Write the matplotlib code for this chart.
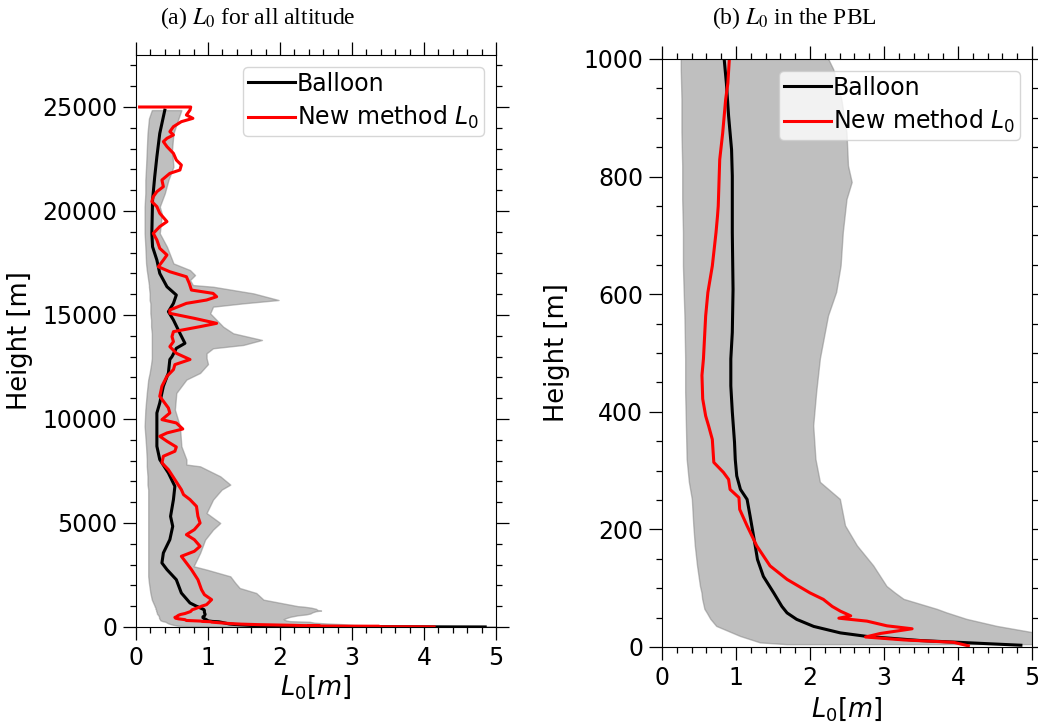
import matplotlib
matplotlib.use("Agg")
import matplotlib.pyplot as plt
from matplotlib.ticker import MultipleLocator

# ---------------- data ----------------
balloon_h = [3, 11, 18, 24, 35, 47, 58, 69, 92, 120,
             149, 172, 194, 223, 251, 268, 291, 319, 348, 400,
             444, 490, 535, 608, 705, 801, 846, 903, 959, 1000,
             1155, 1635, 2275, 2760, 3080, 3560, 4200, 4840, 5320, 6125,
             6765, 7405, 8050, 8690, 9650, 10290, 10770, 11575, 12215, 12860,
             13000, 13400, 13640, 14120, 14760, 15160, 15560, 15960, 16360, 17000,
             17640, 18280, 18925, 20530, 21650, 22610, 23730, 24850]
balloon_L0 = [4.85, 3.49, 2.77, 2.41, 2.05, 1.82, 1.69, 1.62, 1.51, 1.37,
              1.29, 1.26, 1.23, 1.19, 1.15, 1.06, 1.01, 0.99, 0.98, 0.95,
              0.93, 0.93, 0.95, 0.96, 0.95, 0.95, 0.94, 0.90, 0.87, 0.84,
              0.75, 0.63, 0.56, 0.43, 0.36, 0.38, 0.47, 0.51, 0.48, 0.52,
              0.54, 0.45, 0.33, 0.29, 0.29, 0.29, 0.33, 0.38, 0.45, 0.47,
              0.50, 0.56, 0.68, 0.61, 0.52, 0.45, 0.52, 0.56, 0.43, 0.33,
              0.29, 0.23, 0.22, 0.23, 0.26, 0.29, 0.33, 0.40]

new_h = [2, 8, 12, 17, 23, 31, 36, 44, 49, 53,
         61, 69, 81, 92, 115, 138, 172, 206, 234, 254,
         268, 285, 297, 314, 353, 376, 393, 422, 462, 490,
         563, 603, 648, 705, 733, 750, 790, 829, 874, 931,
         959, 1000, 1075, 1315, 1555, 1795, 2275, 2760, 3080, 3400,
         3640, 3880, 4200, 4440, 4680, 5000, 5320, 5800, 6125, 6365,
         6605, 7085, 7565, 7890, 8210, 8450, 8655, 8930, 9170, 9330,
         9520, 9810, 9970, 10290, 10530, 11090, 11575, 12055, 12375, 12615,
         12860, 13160, 13480, 13720, 13960, 14200, 14440, 14600, 14840, 15080,
         15240, 15560, 15720, 15880, 16040, 16200, 16520, 16840, 17080, 17320,
         17640, 17885, 18205, 18605, 18925, 19250, 19490, 19890, 20210, 20450,
         20690, 20930, 21170, 21490, 21810, 21970, 22210, 22450, 22770, 23095,
         23335, 23495, 23655, 23815, 24055, 24295, 24455, 24615, 24855, 25000,
         25000]
new_L0 = [4.14, 3.94, 3.27, 2.75, 2.95, 3.38, 3.04, 2.77, 2.39, 2.55,
          2.41, 2.30, 2.18, 2.00, 1.69, 1.46, 1.28, 1.15, 1.05, 1.04,
          0.92, 0.90, 0.83, 0.70, 0.68, 0.63, 0.59, 0.55, 0.54, 0.56,
          0.59, 0.62, 0.68, 0.73, 0.75, 0.76, 0.77, 0.78, 0.82, 0.86,
          0.89, 0.91, 0.98, 1.05, 0.95, 0.91, 0.86, 0.77, 0.70, 0.63,
          0.81, 0.89, 0.81, 0.70, 0.81, 0.89, 0.86, 0.84, 0.75, 0.66,
          0.63, 0.54, 0.45, 0.36, 0.38, 0.54, 0.56, 0.43, 0.33, 0.43,
          0.65, 0.56, 0.36, 0.47, 0.45, 0.33, 0.36, 0.43, 0.52, 0.54,
          0.75, 0.56, 0.47, 0.52, 0.50, 0.52, 0.89, 1.12, 0.81, 0.47,
          0.47, 0.70, 0.98, 1.12, 1.07, 0.77, 0.74, 0.70, 0.47, 0.31,
          0.38, 0.43, 0.33, 0.29, 0.24, 0.33, 0.43, 0.33, 0.29, 0.22,
          0.24, 0.29, 0.38, 0.36, 0.47, 0.61, 0.63, 0.56, 0.52, 0.43,
          0.38, 0.43, 0.52, 0.47, 0.52, 0.63, 0.79, 0.70, 0.75, 0.76,
          0.05]

band_h = [4, 7, 18, 35, 47, 58, 64, 81, 92, 103,
          138, 172, 206, 251, 280, 319, 376, 433, 490, 563,
          603, 648, 705, 761, 790, 818, 874, 931, 982, 1000,
          1315, 1635, 1875, 2115, 2435, 2760, 2920, 3560, 4200, 4680,
          5000, 5480, 6125, 6605, 6845, 7245, 7725, 7810, 8050, 8690,
          9650, 10450, 11250, 11895, 12215, 12640, 12920, 13160, 13400, 13560,
          13800, 14120, 14440, 14760, 15080, 15400, 15560, 15720, 16040, 16360,
          16440, 16680, 16920, 17160, 17480, 18280, 18925, 19850, 20210, 20850,
          21490, 22130, 22930, 23730, 24450, 24850]
band_lo = [1.69, 1.33, 1.06, 0.74, 0.66, 0.61, 0.58, 0.55, 0.54, 0.52,
           0.48, 0.45, 0.43, 0.41, 0.37, 0.34, 0.33, 0.32, 0.32, 0.31,
           0.30, 0.29, 0.29, 0.28, 0.28, 0.28, 0.27, 0.27, 0.26, 0.26,
           0.22, 0.20, 0.19, 0.18, 0.17, 0.17, 0.17, 0.17, 0.17, 0.17,
           0.17, 0.17, 0.17, 0.17, 0.16, 0.16, 0.15, 0.15, 0.15, 0.14,
           0.12, 0.13, 0.15, 0.17, 0.19, 0.21, 0.22, 0.22, 0.22, 0.22,
           0.22, 0.22, 0.21, 0.21, 0.20, 0.20, 0.20, 0.19, 0.19, 0.18,
           0.18, 0.17, 0.16, 0.15, 0.14, 0.13, 0.12, 0.12, 0.12, 0.13,
           0.13, 0.14, 0.15, 0.16, 0.18, 0.22]
band_hi = [6.0, 5.8, 5.3, 4.53, 4.12, 3.85, 3.72, 3.27, 3.15, 3.04,
           2.86, 2.64, 2.48, 2.41, 2.14, 2.08, 2.05, 2.09, 2.14, 2.25,
           2.36, 2.42, 2.45, 2.50, 2.57, 2.52, 2.50, 2.43, 2.32, 2.25,
           1.77, 1.67, 1.44, 1.38, 1.31, 0.98, 0.80, 0.89, 0.96, 1.07,
           1.17, 0.98, 1.07, 1.19, 1.31, 1.17, 0.89, 0.70, 0.70, 0.63,
           0.61, 0.54, 0.56, 0.70, 0.89, 1.00, 0.98, 0.98, 1.07, 1.49,
           1.75, 1.35, 1.21, 1.12, 1.03, 1.07, 1.49, 1.98, 1.63, 1.07,
           0.79, 0.75, 0.82, 0.75, 0.52, 0.43, 0.33, 0.36, 0.33, 0.40,
           0.45, 0.52, 0.50, 0.52, 0.59, 0.63]

x_ticks = [0, 1, 2, 3, 4, 5]
titles = [r"(a) $L_0$ for all altitude", r"(b) $L_0$ in the PBL"]

# ---------------- figure ----------------
W, H = 1038, 723
fig = plt.figure(figsize=(W / 100, H / 100), dpi=100)
ax1 = fig.add_axes([136 / W, 1 - 627 / H, 360 / W, 572 / H])
ax2 = fig.add_axes([662 / W, 1 - 647 / H, 370 / W, 588 / H])

setups = [
    (ax1, (0, 27500), 5000, 1000, 258, -0.286, -0.080),
    (ax2, (0, 1000), 200, 50, 794, -0.249, -0.082),
]

for i, (ax, ylim, ymaj, ymin, tx, ylx, xly) in enumerate(setups):
    ax.fill_betweenx(band_h, band_lo, band_hi, color="gray", alpha=0.5, lw=1)
    ax.plot(balloon_L0, balloon_h, color="black", lw=2.2, label="Balloon")
    ax.plot(new_L0, new_h, color="red", lw=2.2, label="New method $L_0$")
    ax.set_xlim(0, 5)
    ax.set_ylim(*ylim)
    ax.set_xticks(x_ticks)
    ax.xaxis.set_minor_locator(MultipleLocator(0.2))
    ax.yaxis.set_major_locator(MultipleLocator(ymaj))
    ax.yaxis.set_minor_locator(MultipleLocator(ymin))
    ax.tick_params(which="both", direction="out", top=True, right=True,
                   labeltop=False, labelright=False, width=0.9)
    ax.tick_params(which="major", length=9.5, labelsize=17, pad=4)
    ax.tick_params(which="minor", length=4.5)
    ax.set_ylabel("Height [m]", fontsize=18.5)
    ax.set_xlabel("$L_0[m]$", fontsize=18.5)
    ax.yaxis.set_label_coords(ylx, 0.5)
    ax.xaxis.set_label_coords(0.5, xly)
    ax.legend(loc="upper right", fontsize=17, handletextpad=0.1,
              handlelength=2.0, borderpad=0.2, labelspacing=0.35)
    fig.text(tx / W, 1 - 24 / H, titles[i], ha="center", va="baseline",
             fontsize=17, family="Liberation Serif", math_fontfamily="stix")

fig.savefig("out.png", dpi=100)
